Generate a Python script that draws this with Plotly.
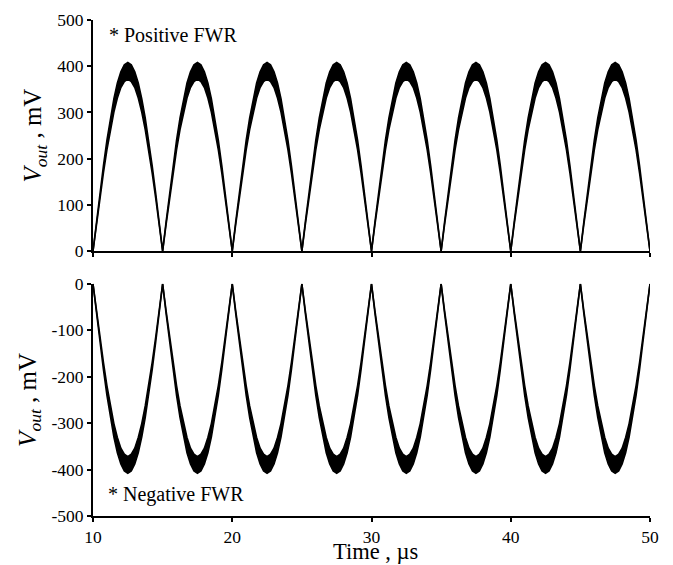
import plotly.graph_objects as go

# ---- data ----
# Start time (µs) of each rectified half-cycle
ARCH_START_US = [10, 15, 20, 25, 30, 35, 40, 45]
# Offsets within one half-cycle (µs)
ARCH_OFFSET_US = [0.0, 0.25, 0.5, 0.75, 1.0, 1.25, 1.5, 1.75, 2.0, 2.25, 2.5,
                  2.75, 3.0, 3.25, 3.5, 3.75, 4.0, 4.25, 4.5, 4.75, 5.0]
# Outer envelope of the dense ripple band (mV)
OUTER_MV = [0, 64, 126, 185, 240, 288, 330, 364, 388, 403, 408,
            403, 388, 364, 330, 288, 240, 185, 126, 64, 0]
# Inner envelope of the dense ripple band (mV)
INNER_MV = [0, 58, 115, 169, 219, 263, 301, 331, 354, 367, 372,
            367, 354, 331, 301, 263, 219, 169, 115, 58, 0]

Y_TICKS_POS = [0, 100, 200, 300, 400, 500]
Y_TICKS_NEG = [0, -100, -200, -300, -400, -500]
Y_LABELS_NEG = ["0", "-100", "-200", "-300", "-400", "-500"]
X_TICKS = [10, 20, 30, 40, 50]

t, outer, inner = [], [], []
for s in ARCH_START_US:
    for o, a, b in zip(ARCH_OFFSET_US, OUTER_MV, INNER_MV):
        t.append(s + o)
        outer.append(a)
        inner.append(b)

fig = go.Figure()
line = dict(color="black", width=1.6)
# top: positive FWR
fig.add_trace(go.Scatter(x=t, y=outer, mode="lines", line=line, xaxis="x", yaxis="y",
                         showlegend=False, hoverinfo="skip"))
fig.add_trace(go.Scatter(x=t, y=inner, mode="lines", line=line, fill="tonexty",
                         fillcolor="black", xaxis="x", yaxis="y", showlegend=False,
                         hoverinfo="skip"))
# bottom: negative FWR
fig.add_trace(go.Scatter(x=t, y=[-v for v in outer], mode="lines", line=line, xaxis="x2",
                         yaxis="y2", showlegend=False, hoverinfo="skip"))
fig.add_trace(go.Scatter(x=t, y=[-v for v in inner], mode="lines", line=line, fill="tonexty",
                         fillcolor="black", xaxis="x2", yaxis="y2", showlegend=False,
                         hoverinfo="skip"))

FONT = "Liberation Serif"
axis_common = dict(showline=True, linecolor="black", linewidth=2, ticks="outside",
                   ticklen=4, tickwidth=1.5, tickcolor="black", showgrid=False,
                   zeroline=False, automargin=False,
                   tickfont=dict(family=FONT, size=17.5, color="black"))

ytitle = dict(text="<i>V</i><sub><i>out</i></sub> , mV",
              font=dict(family=FONT, size=25, color="black"), standoff=8)

fig.update_layout(
    width=673, height=565,
    margin=dict(l=93, r=23, t=20, b=49),
    plot_bgcolor="white", paper_bgcolor="white",
    font=dict(family=FONT, color="black"),
    xaxis=dict(range=[10, 50], tickvals=X_TICKS, showticklabels=False,
               domain=[0, 1], anchor="y", **axis_common),
    yaxis=dict(range=[0, 500], tickvals=Y_TICKS_POS, domain=[0.534, 1], anchor="x",
               title=ytitle, **axis_common),
    xaxis2=dict(range=[10, 50], tickvals=X_TICKS, domain=[0, 1], anchor="y2",
                **axis_common),
    yaxis2=dict(range=[-500, 0], tickvals=Y_TICKS_NEG, ticktext=Y_LABELS_NEG,
                domain=[0, 0.468], anchor="x2", title=ytitle, **axis_common),
    annotations=[
        dict(text="* Positive FWR", x=11.0, y=468, xref="x", yref="y", xanchor="left",
             yanchor="middle", showarrow=False, font=dict(family=FONT, size=20, color="black")),
        dict(text="* Negative FWR", x=10.9, y=-453, xref="x2", yref="y2", xanchor="left",
             yanchor="middle", showarrow=False, font=dict(family=FONT, size=20, color="black")),
        dict(text="Time , µs", x=30.3, y=-0.0985, xref="x2", yref="paper", xanchor="center",
             yanchor="bottom", showarrow=False, borderpad=0,
             font=dict(family=FONT, size=22.5, color="black")),
    ],
)

fig.write_html("out.html")
